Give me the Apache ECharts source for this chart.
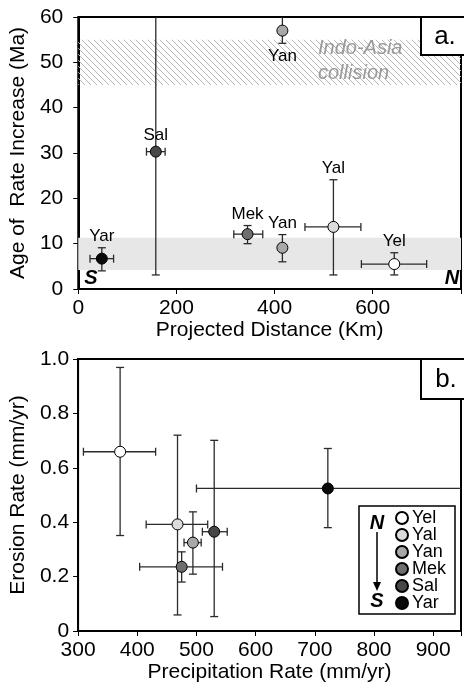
<!DOCTYPE html>
<html>
<head>
<meta charset="utf-8">
<script src="https://cdn.jsdelivr.net/npm/echarts@6/dist/echarts.min.js"></script>
<style>
  html, body { margin: 0; padding: 0; background: #fff; }
  #chart { width: 464px; height: 687px; }
</style>
</head>
<body>
<div id="chart"></div>
<script>
// sites, north to south
const sites = ['Yel', 'Yal', 'Yan', 'Mek', 'Sal', 'Yar'];
const siteColors = ['#ffffff', '#dcdcdc', '#a8a8a8', '#6e6e6e', '#474747', '#0a0a0a'];

// panel a: age of rate increase vs projected distance
const aSite = ['Yel', 'Yal', 'Yan', 'Yan', 'Mek', 'Sal', 'Yar'];
const aDist = [644, 520, 416, 416, 345, 158, 48];
const aDistLo = [577, 462, 416, 416, 317, 139, 24];
const aDistHi = [710, 576, 416, 416, 376, 177, 72];
const aAge = [5.5, 13.7, 9.1, 57.0, 12.1, 30.3, 6.7];
const aAgeLo = [3.1, 3.1, 6.0, 54.2, 10.0, 3.1, 4.0];
const aAgeHi = [8.0, 24.1, 12.0, 65, 14.0, 65, 9.1];
const aLabelBelow = [false, false, false, true, false, false, false];
const collisionBand = [45, 55];
const recentBand = [4.2, 11.3];

// panel b: erosion rate vs precipitation rate
const bPrecip = [371, 468, 494, 475, 530, 722];
const bPrecipLo = [309, 415, 479, 404, 510, 500];
const bPrecipHi = [431, 519, 508, 544, 552, 990];
const bErosion = [0.659, 0.392, 0.325, 0.236, 0.365, 0.524];
const bErosionLo = [0.351, 0.059, 0.209, 0.180, 0.053, 0.380];
const bErosionHi = [0.969, 0.720, 0.438, 0.291, 0.701, 0.671];

const FONT = '"Liberation Sans", Arial, sans-serif';

function hatch() {
  const s = 6;
  const c = document.createElement('canvas');
  c.width = s; c.height = s;
  const g = c.getContext('2d');
  g.strokeStyle = '#b8b8b8';
  g.lineWidth = 1;
  g.beginPath();
  g.moveTo(-1, -1); g.lineTo(s + 1, s + 1);
  g.moveTo(-1, s - 1); g.lineTo(1, s + 1);
  g.moveTo(s - 1, -1); g.lineTo(s + 1, 1);
  g.stroke();
  return c;
}

// error bars (+ optional site labels) in one custom series
function errRender(labels, below) {
  return function (params, api) {
    const cs = params.coordSys;
    const x0 = cs.x, x1 = cs.x + cs.width, y0 = cs.y, y1 = cs.y + cs.height;
    const p = api.coord([api.value(0), api.value(1)]);
    const lo = api.coord([api.value(2), api.value(4)]);
    const hi = api.coord([api.value(3), api.value(5)]);
    const st = { stroke: '#2b2b2b', lineWidth: 1.3 };
    const cap = 4;
    const kids = [];
    const seg = (a, b, c, d) => kids.push({ type: 'line', shape: { x1: a, y1: b, x2: c, y2: d }, style: st });

    const top = Math.max(hi[1], y0), bot = Math.min(lo[1], y1);
    if (bot - top > 0.5) {
      seg(p[0], top, p[0], bot);
      if (hi[1] >= y0) seg(p[0] - cap, hi[1], p[0] + cap, hi[1]);
      if (lo[1] <= y1) seg(p[0] - cap, lo[1], p[0] + cap, lo[1]);
    }
    const left = Math.max(lo[0], x0), right = Math.min(hi[0], x1);
    if (right - left > 0.5) {
      seg(left, p[1], right, p[1]);
      if (lo[0] >= x0) seg(lo[0], p[1] - cap, lo[0], p[1] + cap);
      if (hi[0] <= x1) seg(hi[0], p[1] - cap, hi[0], p[1] + cap);
    }
    if (labels) {
      const i = params.dataIndex;
      let ty;
      if (below[i]) ty = lo[1] + 13;
      else ty = (hi[1] >= y0 ? hi[1] : p[1] - 5) - 11;
      kids.push({
        type: 'text',
        style: { text: labels[i], x: p[0], y: ty, fill: '#000', font: '17px ' + FONT, align: 'center', verticalAlign: 'middle' }
      });
    }
    return { type: 'group', children: kids };
  };
}

const chart = echarts.init(document.getElementById('chart'));

const axisLbl = { color: '#000', fontSize: 21, fontFamily: FONT };
const axisNm = { color: '#000', fontSize: 21, fontFamily: FONT };
const axLine = { show: true, lineStyle: { color: '#000', width: 2 } };
const axTick = { show: true, length: 5, lineStyle: { color: '#000', width: 1 } };

const series = [];

series.push({
  type: 'custom',
  xAxisIndex: 0, yAxisIndex: 0,
  z: 2,
  renderItem: errRender(aSite, aLabelBelow),
  encode: { x: [0, 2, 3], y: [1, 4, 5] },
  data: aDist.map((d, i) => [d, aAge[i], aDistLo[i], aDistHi[i], aAgeLo[i], aAgeHi[i]]),
  silent: true
});

sites.forEach((s, k) => {
  const item = {
    type: 'scatter', name: s,
    xAxisIndex: 0, yAxisIndex: 0,
    z: 3,
    symbolSize: 11,
    itemStyle: { color: siteColors[k], borderColor: '#000', borderWidth: 1, opacity: 1 },
    data: aSite.map((n, i) => n === s ? [aDist[i], aAge[i]] : null).filter(v => v)
  };
  if (k === 0) {
    item.markArea = {
      silent: true,
      z: 1,
      data: [
        [{ yAxis: collisionBand[0], itemStyle: { color: { image: hatch(), repeat: 'repeat' } } }, { yAxis: collisionBand[1] }],
        [{ yAxis: recentBand[0], itemStyle: { color: '#e7e7e7' } }, { yAxis: recentBand[1] }]
      ]
    };
  }
  series.push(item);
});

series.push({
  type: 'custom',
  xAxisIndex: 1, yAxisIndex: 1,
  z: 2,
  renderItem: errRender(null, null),
  encode: { x: [0, 2, 3], y: [1, 4, 5] },
  data: bPrecip.map((d, i) => [d, bErosion[i], bPrecipLo[i], bPrecipHi[i], bErosionLo[i], bErosionHi[i]]),
  silent: true
});

sites.forEach((s, k) => {
  series.push({
    type: 'scatter', name: s,
    xAxisIndex: 1, yAxisIndex: 1,
    z: 3,
    symbolSize: 11,
    itemStyle: { color: siteColors[k], borderColor: '#000', borderWidth: 1, opacity: 1 },
    data: [[bPrecip[k], bErosion[k]]]
  });
});

const option = {
  animation: false,
  backgroundColor: '#fff',
  textStyle: { fontFamily: FONT },
  grid: [
    { left: 78, top: 17, width: 387, height: 272, show: true, borderColor: '#000', borderWidth: 2 },
    { left: 77, top: 359, width: 388, height: 272, show: true, borderColor: '#000', borderWidth: 2 }
  ],
  xAxis: [
    {
      type: 'value', gridIndex: 0, min: 0, max: 780, interval: 200,
      name: 'Projected Distance (Km)', nameLocation: 'middle', nameGap: 30, nameTextStyle: axisNm,
      axisLine: axLine, axisTick: axTick, splitLine: { show: false },
      axisLabel: Object.assign({ margin: 9, formatter: v => (v % 200 === 0 ? String(v) : '') }, axisLbl)
    },
    {
      type: 'value', gridIndex: 1, min: 300, max: 947, interval: 100,
      name: 'Precipitation Rate (mm/yr)', nameLocation: 'middle', nameGap: 30, nameTextStyle: axisNm,
      axisLine: axLine, axisTick: axTick, splitLine: { show: false },
      axisLabel: Object.assign({ margin: 9, formatter: v => (v % 100 === 0 ? String(v) : '') }, axisLbl)
    }
  ],
  yAxis: [
    {
      type: 'value', gridIndex: 0, min: 0, max: 60, interval: 10,
      name: 'Age of  Rate Increase (Ma)', nameLocation: 'middle', nameGap: 42, nameTextStyle: axisNm,
      axisLine: axLine, axisTick: axTick, splitLine: { show: false },
      axisLabel: Object.assign({ margin: 15 }, axisLbl)
    },
    {
      type: 'value', gridIndex: 1, min: 0, max: 1, interval: 0.2,
      name: 'Erosion Rate (mm/yr)', nameLocation: 'middle', nameGap: 42, nameTextStyle: axisNm,
      axisLine: axLine, axisTick: axTick, splitLine: { show: false },
      axisLabel: Object.assign({ margin: 9, formatter: v => (v === 0 ? '0' : v.toFixed(1)) }, axisLbl)
    }
  ],
  legend: {
    data: sites,
    orient: 'vertical',
    left: 359, top: 506,
    padding: [3, 9, 2, 36],
    borderColor: '#000', borderWidth: 1.5,
    backgroundColor: '#fff',
    icon: 'circle',
    itemWidth: 12, itemHeight: 12, itemGap: -1,
    selectedMode: false,
    textStyle: { color: '#000', fontSize: 18, fontFamily: FONT, padding: [0, 0, 0, -1] }
  },
  graphic: [
    {
      type: 'text', left: 318, top: 36, z: 5,
      style: { text: 'Indo-Asia\ncollision', fill: '#9a9a9a', font: 'italic 20px ' + FONT, lineHeight: 25 }
    },
    { type: 'rect', shape: { x: 421, y: 17, width: 50, height: 38 }, style: { fill: '#fff', stroke: '#000', lineWidth: 2 }, z: 5 },
    { type: 'text', z: 6, style: { text: 'a.', x: 445, y: 37, fill: '#000', font: '26px ' + FONT, align: 'center', verticalAlign: 'middle' } },
    { type: 'rect', shape: { x: 421, y: 359, width: 50, height: 40 }, style: { fill: '#fff', stroke: '#000', lineWidth: 2 }, z: 5 },
    { type: 'text', z: 6, style: { text: 'b.', x: 446, y: 380, fill: '#000', font: '26px ' + FONT, align: 'center', verticalAlign: 'middle' } },
    { type: 'text', z: 6, style: { text: 'S', x: 91, y: 278, fill: '#000', font: 'italic bold 20px ' + FONT, align: 'center', verticalAlign: 'middle' } },
    { type: 'text', z: 6, style: { text: 'N', x: 452, y: 278, fill: '#000', font: 'italic bold 20px ' + FONT, align: 'center', verticalAlign: 'middle' } },
    { type: 'text', z: 10, style: { text: 'N', x: 377, y: 523, fill: '#000', font: 'italic bold 20px ' + FONT, align: 'center', verticalAlign: 'middle' } },
    { type: 'line', z: 10, shape: { x1: 377, y1: 532, x2: 377, y2: 585 }, style: { stroke: '#000', lineWidth: 1.5 } },
    { type: 'polygon', z: 10, shape: { points: [[373, 582], [381, 582], [377, 591]] }, style: { fill: '#000' } },
    { type: 'text', z: 10, style: { text: 'S', x: 377, y: 601, fill: '#000', font: 'italic bold 20px ' + FONT, align: 'center', verticalAlign: 'middle' } }
  ],
  series: series
};

chart.setOption(option);
window.addEventListener('resize', () => chart.resize());
</script>
</body>
</html>
